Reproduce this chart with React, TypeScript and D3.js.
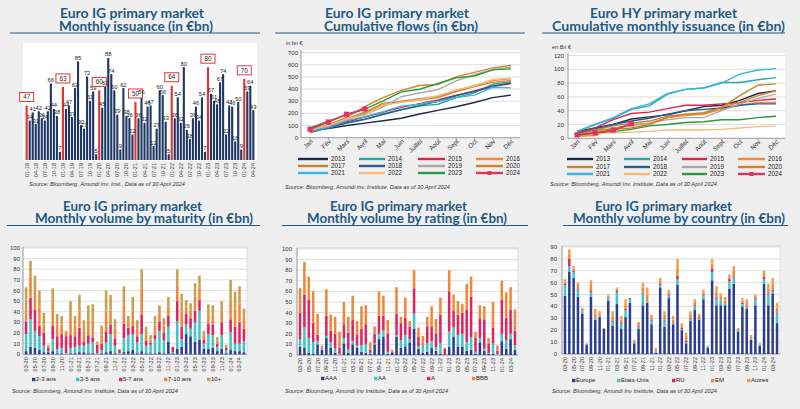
import React from 'react';
import * as d3 from 'd3';

const TITLE_COLOR = '#1f5a86';
const FONT = '"Liberation Sans", Arial, sans-serif';
const TFONT = 'Lato, "Open Sans", sans-serif';
const NAVY = '#1f3864';
const RED = '#e8322c';
const PINK = '#e23a6a';

// ---------- Panel 1: monthly issuance ----------
const ISSUANCE_TICKS = ['01-18','04-18','07-18','10-18','01-19','04-19','07-19','10-19','01-20','04-20','07-20','10-20','01-21','04-21','07-21','10-21','01-22','04-22','07-22','10-22','01-23','04-23','07-23','10-23','01-24','04-24'];
const ISSUANCE = [
  47,34,41,31,42,36,34,42,66,44,38,7,
  63,44,47,37,62,85,30,27,72,51,59,5,
  60,45,63,88,74,60,39,9,62,38,36,22,
  50,36,56,32,46,47,12,27,60,56,33,5,
  64,36,54,32,80,26,18,36,46,34,54,7,
  80,57,51,48,67,74,22,47,46,16,50,9,
  70,59,64,43];

// ---------- Cumulative charts ----------
const MONTHS_FR = ['Jan','Fév','Mars','Avril','Mai','Juin','Juillet','Août','Sept','Oct','Nov','Déc'];
const YEARS = ['2013','2014','2015','2016','2017','2018','2019','2020','2021','2022','2023','2024'];
const YEAR_COLORS = ['#1b2a4a','#2ea7a0','#d8264f','#f08a3c','#c0882e','#2a5d8f','#a8a8a8','#d98026','#33b6e6','#f7bb7c','#2b9a3a','#e2335c'];

const IG_2013 = [60,75,100,120,140,160,195,225,255,290,330,350];
const IG_2014 = [45,80,120,150,190,230,260,275,330,370,440,460];
const IG_2015 = [55,90,130,170,210,250,280,310,350,380,420,445];
const IG_2016 = [40,90,150,200,270,300,320,340,390,430,470,485];
const IG_2017 = [55,100,155,210,285,295,310,330,380,420,455,470];
const IG_2018 = [47,81,122,153,195,231,265,300,345,385,425,450];
const IG_2019 = [63,107,154,191,253,338,368,395,467,518,560,582];
const IG_2020 = [60,105,168,256,330,390,429,438,500,538,574,596];
const IG_2021 = [50,86,140,172,215,260,275,300,330,350,415,410];
const IG_2022 = [64,100,154,186,266,292,310,346,392,426,480,490];
const IG_2023 = [80,137,188,236,303,377,399,446,492,508,558,567];
const IG_2024 = [70,129,193,236];
const IG_SERIES = [IG_2013,IG_2014,IG_2015,IG_2016,IG_2017,IG_2018,IG_2019,IG_2020,IG_2021,IG_2022,IG_2023,IG_2024];

const HY_2013 = [10,15,20,28,31,34,40,46,48,55,65,69];
const HY_2014 = [10,20,29,42,47,64,71,73,81,81,85,88];
const HY_2015 = [8,15,27,36,38,43,48,48,50,52,55,57];
const HY_2016 = [3,4,14,20,22,30,33,35,42,48,52,52];
const HY_2017 = [5,12,18,22,25,32,35,37,45,62,77,79];
const HY_2018 = [6,14,20,25,29,35,40,42,44,48,50,50];
const HY_2019 = [5,10,15,18,22,27,30,30,40,50,58,64];
const HY_2020 = [5,12,13,15,20,30,35,35,45,52,62,69];
const HY_2021 = [10,20,30,43,50,65,71,73,80,93,99,101];
const HY_2022 = [5,7,8,9,10,12,12,12,13,15,17,18];
const HY_2023 = [4,8,10,13,18,20,23,24,27,27,30,32];
const HY_2024 = [5,8,12,21];
const HY_SERIES = [HY_2013,HY_2014,HY_2015,HY_2016,HY_2017,HY_2018,HY_2019,HY_2020,HY_2021,HY_2022,HY_2023,HY_2024];

// ---------- Bottom stacked charts ----------
const BOTTOM_TICKS = ['03-20','05-20','07-20','09-20','11-20','01-21','03-21','05-21','07-21','09-21','11-21','01-22','03-22','05-22','07-22','09-22','11-22','01-23','03-23','05-23','07-23','09-23','11-23','01-24','03-24'];

const MAT_NAMES = ['2-3 ans','3-5 ans','5-7 ans','7-10 ans','10+'];
const MAT_COLORS = ['#2b3d8f','#46c3c6','#e0245e','#f0883a','#c8a050'];
const MAT_2_3 = [3,7,6,4,2,2,3,1,1,0,1,1,2,2,1,1,0,1,2,3,1,0,2,3,4,1,3,1,1,1,2,1,12,1,5,7,19,17,12,14,5,5,6,3,5,1,4,3,3,2];
const MAT_3_5 = [16,26,16,13,6,1,11,4,5,1,5,6,6,6,9,10,1,3,9,16,7,1,13,15,15,10,16,7,8,13,20,12,14,1,26,7,9,7,18,27,5,14,12,4,13,3,17,7,7,10];
const MAT_5_7 = [12,20,20,10,12,3,13,12,13,16,12,10,17,4,8,5,8,6,10,9,7,3,14,7,8,6,18,5,2,4,9,7,10,5,19,12,10,10,11,10,4,10,10,3,12,2,12,16,20,12];
const MAT_7_10 = [8,20,18,18,8,2,23,11,9,3,17,10,16,10,14,16,1,8,19,13,9,0,17,5,13,7,25,6,3,9,8,7,9,0,15,14,7,7,13,12,4,9,9,3,10,1,17,17,18,10];
const MAT_10P = [24,15,14,15,11,1,12,10,8,2,15,9,15,10,14,15,2,9,20,15,9,1,18,6,14,8,18,7,4,9,7,7,9,0,15,17,6,7,13,11,4,9,9,3,10,2,20,16,16,9];

const RAT_NAMES = ['AAA','AA','A','BBB'];
const RAT_COLORS = ['#2b3d8f','#46c3c6','#e0245e','#f0883a'];
const RAT_AAA = [8,7,2,1,10,5,16,7,2,0,11,2,10,7,3,2,1,10,15,17,1,2,17,7,8,12,25,6,2,3,7,4,1,0,8,17,8,8,4,5,1,12,4,1,1,0,13,6,15,5];
const RAT_AA = [7,19,14,11,3,1,2,5,4,1,5,3,3,2,6,8,1,1,5,6,2,0,2,7,11,3,14,2,8,8,6,3,10,0,14,9,11,12,8,12,2,4,2,1,10,1,7,8,5,4];
const RAT_A = [25,31,36,18,6,1,19,11,14,6,13,16,20,10,16,19,3,9,17,14,17,1,20,16,16,12,24,9,1,16,14,13,27,6,38,16,19,20,31,38,13,18,27,9,15,3,32,21,23,14];
const RAT_BBB = [23,31,22,30,20,2,25,15,16,15,21,15,23,13,21,18,7,7,23,19,13,2,25,6,19,5,17,9,7,9,19,14,16,1,20,15,13,8,24,19,6,13,13,5,24,5,18,24,21,20];

const CTY_NAMES = ['Europe','Etats-Unis','RU','EM','Autres'];
const CTY_COLORS = ['#2b3d8f','#46c3c6','#e0245e','#f0883a','#f4a048'];
const CTY_EUROPE = [49,69,64,48,34,8,48,29,31,21,45,24,42,21,31,43,9,21,41,43,25,1,56,23,47,25,58,20,9,28,37,29,46,5,62,41,41,41,55,59,19,40,38,12,41,7,59,41,51,26];
const CTY_US = [9,5,5,6,2,0,4,1,1,0,3,3,10,4,6,3,1,2,9,1,3,1,2,5,2,1,5,1,1,1,3,1,3,1,7,5,5,1,6,6,1,2,1,1,5,1,4,9,2,8];
const CTY_UK = [1,6,1,1,0,0,1,0,0,0,0,1,1,1,1,1,0,1,1,0,1,0,1,1,1,0,3,1,1,1,1,1,1,0,3,1,0,0,2,1,0,1,1,0,1,0,2,1,1,1];
const CTY_EM = [2,4,2,3,2,0,5,4,2,1,1,4,2,3,4,0,1,2,5,6,2,2,3,4,2,3,7,2,4,3,3,2,2,1,4,5,2,3,2,4,1,2,3,2,2,1,3,4,5,4];
const CTY_OTHER = [2,4,2,2,1,1,4,4,2,0,1,4,1,3,4,0,1,1,4,6,2,1,2,3,2,3,7,2,3,3,2,1,2,0,4,5,3,3,2,4,1,2,3,1,1,0,2,4,5,4];

function Title({ c1, w1, c2, w2, y1, y2, t1, t2, ux1, ux2, uy }: any) {
  const st = { fontFamily: TFONT, fontWeight: 700, fontSize: 13, fill: TITLE_COLOR } as any;
  return (
    <g>
      <text x={c1} y={y1} textAnchor="middle" textLength={w1} lengthAdjust="spacingAndGlyphs" style={st}>{t1}</text>
      <text x={c2} y={y2} textAnchor="middle" textLength={w2} lengthAdjust="spacingAndGlyphs" style={st}>{t2}</text>
      <line x1={ux1} x2={ux2} y1={uy} y2={uy} stroke={TITLE_COLOR} strokeWidth={1.2} />
    </g>
  );
}

function Source({ x, y, w, text }: any) {
  return (
    <text x={x} y={y} textLength={w} lengthAdjust="spacingAndGlyphs"
      style={{ fontFamily: FONT, fontStyle: 'italic', fontSize: 6, fill: '#333' }}>{text}</text>
  );
}

function Panel1() {
  const x = d3.scaleBand<number>().domain(d3.range(ISSUANCE.length)).range([25, 255]).paddingInner(0.3).paddingOuter(0.2);
  const y = d3.scaleLinear().domain([0, 100]).range([160, 44]);
  const bw = x.bandwidth();
  return (
    <g>
      <rect x={23} y={43} width={234} height={118} fill="#fff" />
      {ISSUANCE.map((v, i) => {
        const jan = i % 12 === 0;
        return <rect key={'b' + i} x={x(i)} y={y(v)} width={bw} height={y(0) - y(v)} fill={jan ? RED : NAVY} />;
      })}
      {ISSUANCE.map((v, i) => {
        const jan = i % 12 === 0;
        const cx = (x(i) as number) + bw / 2;
        const top = y(v);
        if (jan) {
          return (
            <g key={'l' + i}>
              <rect x={cx - 7} y={top - 13} width={14} height={9} fill="#fff" stroke={i === 72 ? PINK : RED} strokeWidth={1} />
              <text x={cx} y={top - 6.3} textAnchor="middle" style={{ fontFamily: FONT, fontSize: 6.3, fill: '#222' }}>{v}</text>
            </g>
          );
        }
        return <text key={'l' + i} x={cx} y={top - 1.5} textAnchor="middle" style={{ fontFamily: FONT, fontSize: 5.8, fill: '#222' }}>{v}</text>;
      })}
      {ISSUANCE.map((v, i) => {
        if (i % 3 !== 0) return null;
        const cx = (x(i) as number) + bw / 2 + 2;
        return (
          <text key={'t' + i} transform={`translate(${cx},163) rotate(-90)`} textAnchor="end"
            style={{ fontFamily: FONT, fontSize: 5.5, fill: '#333' }}>{ISSUANCE_TICKS[i / 3]}</text>
        );
      })}
    </g>
  );
}

function LineChart({ px0, px1, py0, py1, max, step, series, unit, ux, uy, labX, legCols, legRows }: any) {
  const x = d3.scalePoint<string>().domain(MONTHS_FR).range([px0, px1]).padding(0.5);
  const y = d3.scaleLinear().domain([0, max]).range([py1, py0 + (py1 - py0) * 0.03]);
  const ticks = d3.range(0, max + 1, step);
  const line = d3.line<number>().x((d, i) => x(MONTHS_FR[i]) as number).y(d => y(d));
  return (
    <g>
      <rect x={px0} y={py0} width={px1 - px0} height={py1 - py0} fill="#fff" />
      {ticks.map(t => (
        <g key={t}>
          {t > 0 && <line x1={px0} x2={px1} y1={y(t)} y2={y(t)} stroke="#d6d6d6" strokeWidth={0.8} />}
          <text x={labX} y={y(t) + 2} textAnchor="end" style={{ fontFamily: FONT, fontSize: 6, fill: '#333' }}>{t}</text>
        </g>
      ))}
      <line x1={px0} x2={px0} y1={py0} y2={py1} stroke="#888" strokeWidth={0.8} />
      <line x1={px0} x2={px1} y1={py1} y2={py1} stroke="#888" strokeWidth={0.8} />
      <text x={ux} y={uy} style={{ fontFamily: FONT, fontSize: 5.5, fill: '#333' }}>{unit}</text>
      {MONTHS_FR.map(m => (
        <g key={m}>
          <line x1={x(m)} x2={x(m)} y1={py1} y2={py1 + 2} stroke="#888" strokeWidth={0.6} />
          <text transform={`translate(${(x(m) as number) + 3},${py1 + 4}) rotate(-45)`} textAnchor="end"
            style={{ fontFamily: FONT, fontSize: 6.3, fill: '#333' }}>{m}</text>
        </g>
      ))}
      {series.map((s: number[], k: number) => (
        <path key={k} d={line(s) as string} fill="none" stroke={YEAR_COLORS[k]} strokeWidth={k === 11 ? 1.8 : 1.4} />
      ))}
      {series[11].map((v: number, i: number) => (
        <rect key={'m' + i} x={(x(MONTHS_FR[i]) as number) - 2.6} y={y(v) - 2.6} width={5.2} height={5.2} fill={YEAR_COLORS[11]} />
      ))}
      {YEARS.map((yr, k) => {
        const col = legCols[k % 4];
        const ry = legRows[Math.floor(k / 4)];
        return (
          <g key={yr}>
            <line x1={col[0]} x2={col[1]} y1={ry} y2={ry} stroke={YEAR_COLORS[k]} strokeWidth={2.4} />
            {k === 11 && <rect x={(col[0] + col[1]) / 2 - 2} y={ry - 2} width={4} height={4} fill={YEAR_COLORS[k]} />}
            <text x={col[2]} y={ry + 2.2} style={{ fontFamily: FONT, fontSize: 6.3, fill: '#222' }}>{yr}</text>
          </g>
        );
      })}
    </g>
  );
}

function StackChart({ px0, px1, py0, py1, max, labX, keys, arrays, colors, legX, legY }: any) {
  const n = arrays[0].length;
  const rows = d3.range(n).map(i => {
    const r: any = { i };
    keys.forEach((k: string, j: number) => { r[k] = arrays[j][i]; });
    return r;
  });
  const stacked = d3.stack<any>().keys(keys)(rows);
  const x = d3.scaleBand<number>().domain(d3.range(n)).range([px0, px1]).paddingInner(0.42).paddingOuter(0.4);
  const y = d3.scaleLinear().domain([0, max]).range([py1, py0 + 1]);
  const ticks = d3.range(0, max + 1, 10);
  const bw = x.bandwidth();
  return (
    <g>
      <rect x={px0} y={py0} width={px1 - px0} height={py1 - py0} fill="#fff" stroke="#c8c8c8" strokeWidth={0.6} />
      {ticks.map(t => (
        <g key={t}>
          <line x1={px0} x2={px1} y1={y(t)} y2={y(t)} stroke="#d0d0d0" strokeWidth={0.7} />
          <text x={labX} y={y(t) + 2} textAnchor="end" style={{ fontFamily: FONT, fontSize: 6, fill: '#333' }}>{t}</text>
        </g>
      ))}
      <line x1={px0} x2={px0} y1={py0} y2={py1} stroke="#888" strokeWidth={0.7} />
      <line x1={px0} x2={px1} y1={py1} y2={py1} stroke="#888" strokeWidth={0.7} />
      {stacked.map((layer: any, j: number) => (
        <g key={j} fill={colors[j]}>
          {layer.map((d: any, i: number) => (
            <rect key={i} x={x(i)} y={y(d[1])} width={bw} height={Math.max(0, y(d[0]) - y(d[1]))} />
          ))}
        </g>
      ))}
      {d3.range(n).map(i => {
        if (i % 2 !== 0) return null;
        const cx = (x(i) as number) + bw / 2 + 2;
        return (
          <text key={'t' + i} transform={`translate(${cx},${py1 + 3}) rotate(-90)`} textAnchor="end"
            style={{ fontFamily: FONT, fontSize: 5.5, fill: '#333' }}>{BOTTOM_TICKS[i / 2]}</text>
        );
      })}
      {keys.map((k: string, j: number) => (
        <g key={'lg' + k}>
          <rect x={legX[j]} y={legY - 3.2} width={3.4} height={3.4} fill={colors[j]} />
          <text x={legX[j] + 4} y={legY} style={{ fontFamily: FONT, fontSize: 6, fill: '#222' }}>{k}</text>
        </g>
      ))}
    </g>
  );
}

export default function App() {
  return (
    <div style={{ position: 'absolute', left: 0, top: 0 }}>
      <svg width={800} height={409} viewBox="0 0 800 409" style={{ display: 'block' }}>
        <rect x={0} y={0} width={800} height={409} fill="#efefef" />

        <Title c1={132} w1={144} c2={136} w2={154} y1={17.5} y2={30.8} t1="Euro IG primary market" t2="Monthly issuance (in €bn)" ux1={10} ux2={260} uy={33} />
        <Panel1 />
        <Source x={29} y={186} w={156} text="Source: Bloomberg,  Amundi Inv. Inst., Data as of 30 April 2024" />

        <Title c1={397} w1={144} c2={401} w2={154} y1={17.5} y2={30.8} t1="Euro IG primary market" t2="Cumulative flows (in €bn)" ux1={275} ux2={525} uy={33} />
        <LineChart px0={301} px1={520} py0={50} py1={137.7} max={700} step={100} series={IG_SERIES}
          unit="in bn €" ux={286} uy={45} labX={298}
          legCols={[[298, 328, 331], [359, 385, 388], [418, 445, 448], [476, 503, 506]]} legRows={[159, 166, 173]} />
        <Source x={285} y={189} w={165} text="Source: Bloomberg,  Amundi Inv. Institute,  Data as of 30 April 2024" />

        <Title c1={663.5} w1={147} c2={668.5} w2={233} y1={17.5} y2={30.8} t1="Euro HY primary market" t2="Cumulative monthly issuance (in €bn)" ux1={542} ux2={785} uy={33} />
        <LineChart px0={568} px1={785} py0={53} py1={138.3} max={120} step={20} series={HY_SERIES}
          unit="en Bn €" ux={552} uy={49} labX={564}
          legCols={[[567, 593, 596], [624, 650, 653], [682, 707, 710], [738, 765, 768]]} legRows={[159, 167, 174]} />
        <Source x={550} y={186} w={167} text="Source: Bloomberg,  Amundi Inv. Institute,  Data as of 30 April 2024" />

        <Title c1={132.5} w1={139} c2={144} w2={218} y1={211} y2={223} t1="Euro IG primary market" t2="Monthly volume by maturity (in €bn)" ux1={7} ux2={260} uy={225.5} />
        <StackChart px0={23} px1={247} py0={247} py1={354.3} max={100} labX={20}
          keys={MAT_NAMES} arrays={[MAT_2_3, MAT_3_5, MAT_5_7, MAT_7_10, MAT_10P]} colors={MAT_COLORS}
          legX={[32, 76, 119, 164, 207]} legY={381} />
        <Source x={12} y={393} w={166} text="Source: Bloomberg,  Amundi Inv. Institute,  Data as of 30 April 2024" />

        <Title c1={398.5} w1={137} c2={407} w2={200} y1={211} y2={223} t1="Euro IG primary market" t2="Monthly volume by rating (in €bn)" ux1={282} ux2={528} uy={225.5} />
        <StackChart px0={297} px1={518} py0={248} py1={355} max={100} labX={292}
          keys={RAT_NAMES} arrays={[RAT_AAA, RAT_AA, RAT_A, RAT_BBB]} colors={RAT_COLORS}
          legX={[321, 374, 427, 472]} legY={380} />
        <Source x={285} y={393} w={163} text="Source: Bloomberg,  Amundi Inv Institute,  Data as of 30 April 2024" />

        <Title c1={663.5} w1={137} c2={679} w2={212} y1={211} y2={223} t1="Euro IG primary market" t2="Monthly volume by country (in €bn)" ux1={563} ux2={788} uy={225.5} />
        <StackChart px0={562} px1={780} py0={246} py1={354} max={90} labX={557}
          keys={CTY_NAMES} arrays={[CTY_EUROPE, CTY_US, CTY_UK, CTY_EM, CTY_OTHER]} colors={CTY_COLORS}
          legX={[572, 617, 672, 711, 747]} legY={382} />
        <Source x={552} y={393} w={165} text="Source: Bloomberg,  Amundi Inv Institute,  Data as of 30 April 2024" />
      </svg>
    </div>
  );
}
